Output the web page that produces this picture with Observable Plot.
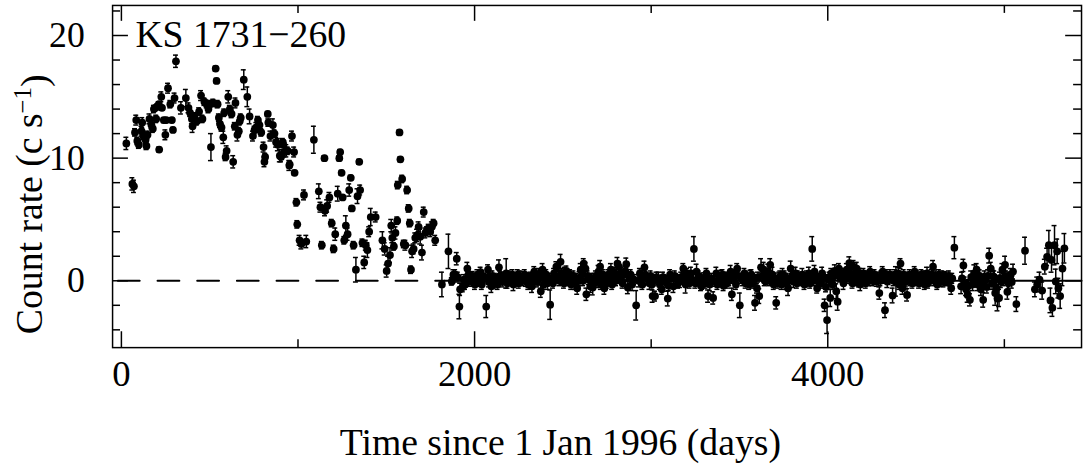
<!DOCTYPE html>
<html><head><meta charset="utf-8">
<script src="https://cdn.jsdelivr.net/npm/d3@7"></script>
<script src="https://cdn.jsdelivr.net/npm/@observablehq/plot@0.6"></script>
<style>html,body{margin:0;padding:0;overflow:hidden;background:#fff;} svg{display:block;}</style>
</head><body><div id="chart"></div>
<script>
// [day, count rate, error]
const outburst = [
[28,11.2,0.5],[62,7.9,0.5],[71,7.7,0.5],[77,12.1,0.3],[84,13.1,0.4],[90,11.4,0.3],[99,11.1,0.3],[114,12.2,0.4],[118,12.9,0.4],[124,11.8,0.3],
[137,11.5,0.3],[142,11.0,0.3],[148,11.9,0.3],[159,13.2,0.4],[170,12.7,0.3],[178,12.4,0.3],[184,14.0,0.3],[193,14.1,0.2],[197,13.2,0.3],[202,14.2,0.2],
[212,14.4,0.2],[214,10.7,0.2],[226,15.0,0.4],[230,14.1,0.2],[240,13.1,0.2],[249,11.9,0.4],[254,13.1,0.2],[264,15.7,0.4],[277,14.4,0.3],[286,13.1,0.2],
[292,12.3,0.2],[301,14.9,0.4],[309,17.9,0.5],[337,14.1,0.5],[365,14.9,0.7],[380,14.1,0.4],[389,13.7,0.3],[399,13.2,0.4],[403,12.6,0.5],[414,13.4,0.3],
[427,13.0,0.3],[440,13.8,0.3],[451,15.1,0.4],[459,13.2,0.3],[470,14.6,0.3],[483,14.4,0.3],[493,14.0,0.3],[502,14.4,0.3],[507,10.9,1.1],[520,14.5,0.3],
[534,17.3,0.2],[539,16.3,0.2],[545,14.4,0.3],[552,13.3,0.3],[558,12.8,0.3],[567,12.5,0.3],[577,11.7,0.5],[582,13.7,0.3],[590,10.1,0.3],[596,10.6,0.4],
[605,15.0,0.5],[614,14.0,0.3],[624,13.6,0.3],[633,9.7,0.5],[642,12.6,0.3],[646,14.5,0.4],[657,11.9,0.5],[665,12.2,0.3],[670,13.0,0.3],[676,13.3,0.3],
[693,16.4,0.8],[713,15.0,0.8],[726,13.4,0.6],[745,11.8,0.4],[754,12.3,0.3],[764,12.5,0.4],[773,13.1,0.3],[782,12.7,0.3],[792,12.1,0.3],[805,10.9,0.4],
[810,9.7,0.4],[814,10.1,0.3],[829,13.6,0.2],[832,12.9,0.3],[844,11.8,0.4],[858,12.7,0.5],[867,12.0,0.3],[876,11.3,0.4],[886,11.1,0.5],[897,10.2,0.5],
[904,10.1,0.4],[914,11.3,0.3],[916,11.1,0.4],[923,10.5,0.4],[934,10.6,0.5],[942,10.6,0.3],[951,9.4,0.4],[953,9.5,0.3],[966,11.8,0.4],[978,10.5,0.4],
[981,8.8,0.2],[991,6.4,0.3],[996,4.6,0.3],[1009,3.3,0.4],[1019,3.0,0.4],[1034,7.0,0.4],[1047,3.2,0.5],[1090,11.5,1.1],[1118,7.3,0.6],[1127,6.0,0.4],
[1135,2.9,0.3],[1150,10.0,0.2],[1153,5.7,0.4],[1165,6.1,0.5],[1178,6.8,0.4],[1191,4.7,0.3],[1202,2.6,0.3],[1211,3.8,0.5],[1225,7.1,0.6],[1234,10.0,0.2],
[1239,10.5,0.2],[1247,8.8,0.2],[1253,6.8,0.2],[1262,3.3,0.3],[1271,4.5,0.8],[1281,3.8,0.5],[1290,7.4,0.5],[1299,8.4,0.2],[1305,5.9,0.2],[1315,2.9,0.3],
[1328,0.9,1.0],[1337,6.9,0.6],[1347,9.7,0.2],[1352,7.4,0.4],[1365,3.1,0.3],[1375,1.5,0.5],[1384,2.9,0.4],[1393,2.5,0.6],[1403,4.0,0.4],[1412,5.2,0.7],
[1440,5.2,0.4],[1478,3.3,0.7],[1491,2.6,0.5],[1502,0.8,0.5],[1510,1.4,0.6],[1521,2.1,0.6],[1528,4.5,0.5],[1534,3.5,0.4],[1543,2.8,0.3],[1552,3.9,0.5],
[1562,4.9,0.3],[1565,7.8,0.3],[1575,12.1,0.2],[1580,9.9,0.2],[1590,8.3,0.3],[1599,3.0,0.3],[1608,2.9,0.4],[1618,7.4,0.3],[1627,5.9,0.3],[1633,4.7,0.3],
[1640,0.9,0.3],[1646,2.4,0.5],[1655,2.6,0.4],[1664,3.5,0.4],[1674,3.7,0.5],[1683,4.4,0.4],[1692,3.6,0.6],[1702,2.3,0.6],[1712,5.6,0.4],[1721,3.9,0.4],
[1730,4.1,0.3],[1740,4.3,0.3],[1749,4.0,0.4],[1758,4.4,0.4],[1768,4.7,0.3],[1777,3.3,0.4]
];
const quiescent = [
[1815,-0.3,1.0],[1852,2.4,1.4],[1871,-0.05,0.3],[1880,0.5,0.4],[1890,0.5,0.4],[1899,1.8,0.5],[1914,-2.1,1.0],[1918,-0.7,0.5],[1933,-0.5,0.4],[1946,-0.3,0.4],
[1959,1.0,0.5],[1965,0.5,0.4],[1974,-0.05,0.4],[1989,0.35,0.4],[2002,-0.3,0.4],[2011,0.2,0.3],[2021,-0.05,0.4],[2034,0.7,0.4],[2049,0.2,0.4],[2066,-2.1,0.9],
[2076,0.9,0.4],[2086,0.2,0.4],[2095,-0.45,0.5],[2108,-0.2,0.4],[2123,0.1,0.4],[2138,1.1,0.6],[2151,0.2,0.5],[2179,0.6,1.2],[2207,0.2,0.5],[2220,-0.3,0.5],
[2235,0.2,0.4],[2244,0.5,0.4],[2263,0.1,0.4],[2276,0.35,0.4],[2291,-0.05,0.4],[2310,0.2,0.4],[2325,-0.45,0.5],[2338,0.75,0.4],[2347,0.2,0.4],[2362,0.5,0.5],
[2375,-0.85,0.5],[2385,0.9,0.5],[2399,0.2,0.4],[2413,-0.2,0.5],[2428,-1.95,1.2],[2437,0.2,0.4],[2450,0.6,0.4],[2463,1.15,0.4],[2474,0.35,0.5],[2487,1.55,0.6],
[2500,0.2,0.5],[2512,0.6,0.5],[2534,0.35,0.5],[2553,0.2,0.4],[2568,-0.2,0.5],[2581,-0.6,0.5],[2594,0.25,0.5],[2609,0.6,0.5],[2618,1.4,0.4],[2628,1.0,0.5],
[2633,-1.1,0.5],[2646,0.1,0.4],[2655,-0.45,0.5],[2669,-0.55,0.6],[2680,0.2,0.4],[2693,-0.05,0.5],[2702,0.75,0.5],[2711,1.15,0.5],[2720,0.2,0.4],[2735,-0.6,0.5],
[2748,-0.2,0.4],[2757,0.5,0.4],[2772,0.9,0.5],[2785,0.2,0.4],[2794,0.6,0.5],[2809,1.4,0.5],[2816,1.15,0.4],[2831,0.6,0.5],[2846,0.5,0.4],[2859,1.35,0.5],
[2868,-0.55,0.5],[2877,0.2,0.4],[2915,-2.0,1.2],[2943,0.35,0.5],[2962,1.1,0.5],[2966,0.5,0.4],[2977,0.2,0.4],[2985,0.1,0.4],[2990,-0.2,0.5],[3004,-0.3,0.4],
[3008,-1.25,0.5],[3022,-1.25,0.4],[3041,0.2,0.5],[3060,-0.7,0.4],[3079,-0.05,0.5],[3094,-1.45,0.6],[3107,0.5,0.4],[3126,-0.45,0.5],[3145,0.1,0.4],[3163,-0.05,0.5],
[3182,1.0,0.4],[3195,-0.3,0.7],[3210,0.2,0.4],[3225,0.6,0.5],[3242,2.6,1.0],[3257,0.75,0.6],[3276,0.1,0.5],[3289,-0.3,0.4],[3300,0.25,0.4],[3313,0.6,0.4],
[3322,-1.25,0.5],[3332,-0.3,0.5],[3351,-1.4,0.5],[3360,-0.05,0.4],[3369,0.6,0.5],[3382,0.1,0.4],[3397,0.35,0.5],[3416,-0.05,0.4],[3435,0.2,0.4],[3450,0.75,0.5],
[3457,-1.1,0.5],[3472,0.5,0.4],[3487,1.0,0.4],[3502,-2.0,1.0],[3513,0.2,0.4],[3528,0.6,0.4],[3547,0.1,0.4],[3562,0.35,0.5],[3575,-0.2,0.4],[3588,-1.8,0.6],
[3599,-0.6,0.4],[3612,-1.25,0.6],[3622,1.1,0.7],[3637,0.9,0.6],[3650,0.2,0.5],[3663,0.75,0.6],[3674,1.3,0.5],[3687,0.5,0.6],[3708,-1.8,0.5],[3725,0.2,0.5],
[3744,0.5,0.5],[3762,-0.2,0.5],[3775,-0.6,0.6],[3790,1.0,0.6],[3805,-0.05,0.5],[3818,0.6,0.5],[3837,0.2,0.4],[3856,0.5,0.5],[3875,-0.05,0.4],[3893,0.6,0.5],
[3912,2.6,1.0],[3925,0.75,0.5],[3940,-0.6,0.4],[3955,0.2,0.4],[3968,0.6,0.5],[3982,-2.0,0.5],[3996,-3.2,1.1],[4005,0.1,0.4],[4014,-1.4,0.7],[4033,0.35,0.5],
[4048,-0.85,0.6],[4056,-1.7,0.7],[4074,0.5,0.5],[4089,-0.2,0.5],[4108,0.9,0.5],[4122,1.45,0.5],[4135,0.2,0.5],[4146,1.15,0.5],[4164,1.0,0.5],[4165,0.35,0.5],
[4182,0.6,0.4],[4184,-0.3,0.5],[4202,0.6,0.4],[4221,0.2,0.4],[4240,0.75,0.4],[4259,0.35,0.4],[4277,-0.05,0.4],[4292,-1.0,0.5],[4311,0.75,0.4],[4324,-2.4,0.6],
[4337,-0.05,0.5],[4352,0.5,0.4],[4367,-1.2,0.6],[4386,-0.05,1.2],[4399,0.6,0.5],[4412,1.4,0.4],[4423,-0.6,0.5],[4436,0.1,0.4],[4449,-1.15,0.5],[4464,0.5,0.4],
[4479,-0.2,0.4],[4492,0.75,0.4],[4511,0.2,0.4],[4530,0.5,0.4],[4549,-0.3,0.4],[4562,0.6,0.5],[4581,0.35,0.4],[4596,1.15,0.5],[4614,0.1,0.4],[4629,0.5,0.4],
[4642,-0.05,0.4],[4661,0.35,0.4],[4680,0.1,0.4],[4699,-0.6,0.5],[4717,2.7,0.9],[4755,-0.45,0.6],[4768,1.25,0.5],[4783,-0.7,0.5],[4792,-1.15,0.6],[4805,-1.55,0.5],
[4820,-0.3,0.5],[4830,0.6,0.7],[4843,0.9,0.5],[4854,0.1,0.5],[4867,-0.7,0.5],[4880,-1.55,0.6],[4895,0.1,0.5],[4914,2.05,0.6],[4923,1.0,0.5],[4937,0.35,0.5],
[4948,-1.0,1.0],[4961,-1.45,1.0],[4970,-1.4,0.7],[4980,-0.05,0.5],[4989,0.9,0.5],[5004,1.3,0.7],[5017,-0.9,0.6],[5030,0.2,0.5],[5049,0.75,0.6],[5068,-1.9,0.6],
[5117,2.45,1.1],[5173,-0.7,0.6],[5186,-0.3,0.6],[5199,0.1,0.6],[5214,-0.8,0.7],[5229,1.15,0.6],[5242,1.95,0.7],[5252,2.9,1.2],[5261,-1.6,1.0],[5267,1.7,1.0],
[5272,-2.2,0.7],[5284,2.9,1.6],[5291,-0.05,1.0],[5299,2.4,1.0],[5306,-0.6,0.8],[5316,-1.25,1.0],[5329,1.0,1.4],[5340,2.65,1.2]
];
// additional points
const quiescentDense = [
[1905,0.3,0.4],[1940,0.1,0.4],[1952,-0.2,0.3],[1982,0.4,0.3],[1995,0.0,0.4],[2016,0.5,0.4],[2028,0.1,0.4],[2041,-0.3,0.4],[2056,0.3,0.3],[2081,-0.1,0.4],
[2101,0.4,0.4],[2115,0.2,0.4],[2130,-0.3,0.4],[2144,0.4,0.4],[2158,-0.1,0.4],[2165,0.3,0.4],[2186,-0.2,0.4],[2193,0.4,0.4],[2200,0.0,0.4],[2214,0.5,0.4],
[2228,0.0,0.4],[2250,-0.2,0.4],[2256,0.4,0.4],[2270,0.0,0.4],[2284,0.5,0.4],[2298,0.2,0.4],[2304,-0.3,0.4],[2318,0.3,0.4],[2332,0.0,0.4],[2354,-0.1,0.4],
[2369,0.3,0.4],[2392,-0.3,0.4],[2406,0.5,0.4],[2420,0.1,0.4],[2444,-0.2,0.4],[2457,0.3,0.4],[2480,0.0,0.4],[2494,0.6,0.4],[2506,-0.2,0.4],[2520,0.8,0.4],
[2527,0.0,0.4],[2541,0.5,0.4],[2547,-0.3,0.4],[2560,0.4,0.4],[2575,0.2,0.4],[2588,0.0,0.4],[2601,0.9,0.5],[2614,0.0,0.4],[2640,0.4,0.4],[2662,0.2,0.4],
[2675,-0.2,0.4],[2687,0.4,0.4],[2698,0.1,0.4],[2715,-0.3,0.4],[2727,0.5,0.4],[2741,0.1,0.4],[2764,0.0,0.4],[2779,-0.3,0.4],[2790,0.3,0.4],[2801,0.0,0.4],
[2823,0.2,0.4],[2838,-0.2,0.4],[2853,0.8,0.4],[2884,0.5,0.4],[2892,-0.3,0.5],[2903,0.1,0.4],[2929,0.0,0.5],[2936,0.6,0.4],[2950,-0.3,0.4],[2997,0.4,0.4],
[3015,0.0,0.4],[3030,0.3,0.4],[3049,-0.3,0.4],[3067,0.3,0.4],[3086,0.0,0.4],[3100,-0.4,0.4],[3115,0.2,0.4],[3134,0.4,0.4],[3152,-0.2,0.4],[3170,0.3,0.4],
[3188,0.2,0.4],[3203,0.6,0.4],[3217,-0.2,0.4],[3233,0.1,0.4],[3250,-0.2,0.4],[3268,0.4,0.4],[3282,-0.4,0.4],[3295,0.0,0.4],[3307,-0.2,0.4],[3318,0.3,0.4],
[3340,0.2,0.4],[3375,-0.3,0.4],[3390,0.0,0.4],[3404,0.5,0.4],[3410,-0.4,0.4],[3423,0.3,0.4],[3429,-0.2,0.4],[3442,0.0,0.4],[3465,0.2,0.4],[3480,-0.3,0.4],
[3494,0.4,0.4],[3520,0.0,0.4],[3535,-0.2,0.4],[3540,0.3,0.4],[3555,-0.3,0.4],[3568,0.5,0.4],[3582,0.1,0.4],[3605,0.3,0.4],[3629,0.4,0.4],[3643,0.0,0.4],
[3656,0.5,0.4],[3669,0.0,0.4],[3681,0.3,0.4],[3694,-0.3,0.4],[3700,0.2,0.4],[3715,-0.2,0.4],[3731,0.4,0.4],[3738,-0.3,0.4],[3750,0.1,0.4],[3756,0.4,0.4],
[3768,0.2,0.4],[3782,0.0,0.4],[3797,0.4,0.4],[3811,0.2,0.4],[3825,-0.2,0.4],[3830,0.4,0.4],[3844,0.0,0.4],[3850,0.3,0.4],[3862,0.1,0.4],[3868,-0.3,0.4],
[3881,0.4,0.4],[3887,0.1,0.4],[3900,-0.2,0.4],[3906,0.3,0.4],[3919,0.0,0.4],[3932,0.3,0.4],[3948,0.1,0.4],[3962,-0.2,0.4],[3975,0.3,0.4],[3990,-0.5,0.4],
[4010,0.3,0.4],[4020,0.6,0.4],[4027,-0.3,0.4],[4040,0.8,0.5],[4063,1.0,0.4],[4068,0.3,0.4],[4080,0.6,0.4],[4095,0.1,0.4],[4101,0.5,0.4],[4115,0.2,0.4],
[4128,0.6,0.4],[4140,-0.2,0.4],[4153,0.4,0.4],[4158,0.0,0.4],[4170,0.3,0.4],[4177,-0.1,0.4],[4190,0.4,0.4],[4196,0.0,0.4],[4208,0.3,0.4],[4215,-0.2,0.4],
[4228,0.4,0.4],[4234,0.0,0.4],[4246,0.3,0.4],[4252,0.0,0.4],[4265,0.5,0.4],[4271,0.1,0.4],[4284,0.3,0.4],[4298,0.0,0.4],[4304,0.4,0.4],[4317,0.2,0.4],
[4330,0.5,0.4],[4344,0.1,0.4],[4358,0.3,0.4],[4373,0.0,0.4],[4380,0.5,0.4],[4392,0.2,0.4],[4405,-0.3,0.4],[4418,0.3,0.4],[4430,0.5,0.4],[4442,-0.1,0.4],
[4456,0.3,0.4],[4470,0.0,0.4],[4485,0.3,0.4],[4498,0.0,0.4],[4504,0.4,0.4],[4517,-0.2,0.4],[4524,0.3,0.4],[4537,0.0,0.4],[4543,0.4,0.4],[4556,0.1,0.4],
[4568,-0.2,0.4],[4575,0.2,0.4],[4588,0.5,0.4],[4602,0.0,0.4],[4608,0.4,0.4],[4620,-0.3,0.4],[4635,0.2,0.4],[4648,0.4,0.4],[4655,-0.1,0.4],[4668,0.3,0.4],
[4674,0.0,0.4],[4686,0.4,0.4],[4692,0.0,0.4],[4705,0.2,0.4],[4760,0.2,0.5],[4775,-0.2,0.5],[4798,-0.4,0.5],[4812,0.3,0.5],[4836,0.3,0.5],[4848,-0.3,0.5],
[4860,0.4,0.5],[4873,-0.2,0.5],[4888,0.3,0.5],[4901,-0.5,0.5],[4908,0.4,0.5],[4930,-0.2,0.5],[4943,0.3,0.5],[4955,-0.6,0.5],[4975,0.2,0.5],[4995,0.1,0.5],
[5010,0.3,0.5],[5023,-0.2,0.5],[5036,0.5,0.5],[5042,-0.1,0.5]
];
const xMajorTicks = [0, 2000, 4000];
const xMinorTicks = [1000, 3000, 5000];
const yMajorTicks = [0, 10, 20];
const yMinorTicks = [-4, -2, 2, 4, 6, 8, 12, 14, 16, 18, 22];
const dashedZero = [[-20, 0], [1830, 0]];
const solidZero = [[1830, 0], [5437, 0]];
const sourceName = "KS 1731\u2212260";
const xTitle = "Time since 1 Jan 1996 (days)";
const yTitle = "Count rate (c s";
const yTitleSup = "\u22121";

const W = 1095, H = 469, mL = 113, mR = 5, mT = 5, mB = 119;
const plotH = H - mT - mB;
const plotW = W - mL - mR;
const font = "'Liberation Serif', 'Times New Roman', serif";
const data = [...outburst, ...quiescent, ...quiescentDense].map(([x, y, e]) => ({x, y, e}));
const capHalf = 14; // in days

const majLen = 16, minLen = 8;
const chart = Plot.plot({
  width: W, height: H, marginLeft: mL, marginRight: mR, marginTop: mT, marginBottom: mB,
  style: {fontFamily: font, background: "white", color: "black", overflow: "visible"},
  x: {domain: [-50, 5437], axis: null},
  y: {domain: [-5.45, 22.45], axis: null},
  marks: [
    Plot.line(dashedZero, {x: d => d[0], y: d => d[1], stroke: "black", strokeWidth: 2, strokeDasharray: "22,18"}),
    Plot.line(solidZero, {x: d => d[0], y: d => d[1], stroke: "black", strokeWidth: 2}),
    Plot.ruleX(data, {x: "x", y1: d => d.y - d.e, y2: d => d.y + d.e, stroke: "black", strokeWidth: 1.5}),
    Plot.ruleY(data, {y: d => d.y + d.e, x1: d => d.x - capHalf, x2: d => d.x + capHalf, stroke: "black", strokeWidth: 1.5}),
    Plot.ruleY(data, {y: d => d.y - d.e, x1: d => d.x - capHalf, x2: d => d.x + capHalf, stroke: "black", strokeWidth: 1.5}),
    Plot.dot(data, {x: "x", y: "y", r: 3.9, fill: "black", stroke: "none"}),
    // inward ticks on all four sides
    Plot.ruleX(xMajorTicks, {x: d => d, insetTop: plotH - majLen, stroke: "black", strokeWidth: 1.5}),
    Plot.ruleX(xMajorTicks, {x: d => d, insetBottom: plotH - majLen, stroke: "black", strokeWidth: 1.5}),
    Plot.ruleX(xMinorTicks, {x: d => d, insetTop: plotH - minLen, stroke: "black", strokeWidth: 1.5}),
    Plot.ruleX(xMinorTicks, {x: d => d, insetBottom: plotH - minLen, stroke: "black", strokeWidth: 1.5}),
    Plot.ruleY(yMajorTicks, {y: d => d, insetRight: plotW - majLen, stroke: "black", strokeWidth: 1.5}),
    Plot.ruleY(yMajorTicks, {y: d => d, insetLeft: plotW - majLen, stroke: "black", strokeWidth: 1.5}),
    Plot.ruleY(yMinorTicks, {y: d => d, insetRight: plotW - minLen, stroke: "black", strokeWidth: 1.5}),
    Plot.ruleY(yMinorTicks, {y: d => d, insetLeft: plotW - minLen, stroke: "black", strokeWidth: 1.5}),
    Plot.frame({stroke: "black", strokeWidth: 1.5}),
    Plot.axisX(xMajorTicks, {anchor: "bottom", tickSize: 0, tickPadding: 12, fontSize: 37, tickFormat: d => String(d), label: null}),
    Plot.axisY(yMajorTicks, {anchor: "left", tickSize: 0, tickPadding: 28, fontSize: 36, tickFormat: d => String(d), label: null}),
    Plot.text([sourceName], {frameAnchor: "top-left", dx: 23, dy: 30, textAnchor: "start", lineAnchor: "middle", fontSize: 38, fill: "black"})
  ]
});

const svg = d3.select(chart);
svg.append("text")
  .attr("x", 565).attr("y", 459)
  .attr("text-anchor", "middle")
  .attr("font-family", font).attr("font-size", 38).attr("fill", "black")
  .text(xTitle);
const yt = svg.append("text")
  .attr("transform", "translate(42,206) rotate(-90)")
  .attr("text-anchor", "middle")
  .attr("font-family", font).attr("font-size", 38).attr("fill", "black");
yt.append("tspan").text(yTitle);
yt.append("tspan").attr("dy", "-0.42em").attr("font-size", 25).text(yTitleSup);
yt.append("tspan").attr("dy", "0.42em").text(")");
document.getElementById("chart").appendChild(chart);
</script>
</body></html>
